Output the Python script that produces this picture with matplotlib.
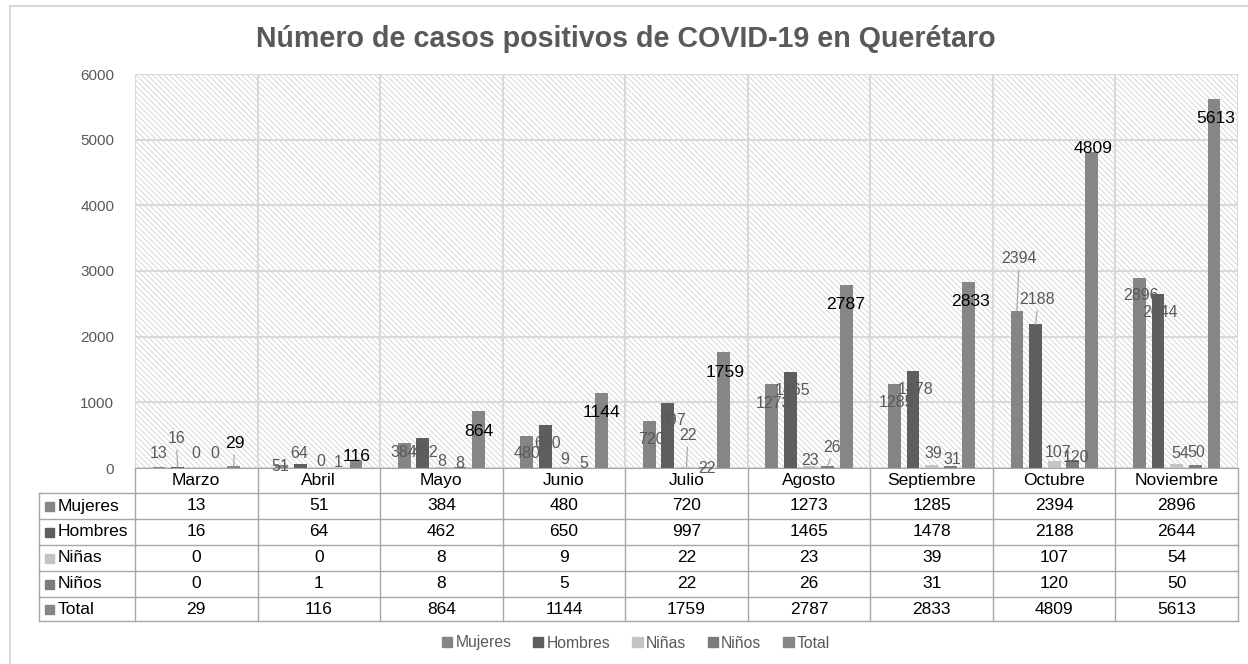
import numpy as np
import matplotlib
matplotlib.use('Agg')
import matplotlib.pyplot as plt
from matplotlib.patches import Rectangle, Patch
from matplotlib.lines import Line2D
from matplotlib.transforms import blended_transform_factory

plt.rcParams['font.family'] = ['Liberation Sans', 'DejaVu Sans']
plt.rcParams['hatch.linewidth'] = 0.55

MONTHS = ["Marzo", "Abril", "Mayo", "Junio", "Julio", "Agosto",
          "Septiembre", "Octubre", "Noviembre"]
SERIES = ["Mujeres", "Hombres", "Niñas", "Niños", "Total"]
MUJERES = [13, 51, 384, 480, 720, 1273, 1285, 2394, 2896]
HOMBRES = [16, 64, 462, 650, 997, 1465, 1478, 2188, 2644]
NINAS = [0, 0, 8, 9, 22, 23, 39, 107, 54]
NINOS = [0, 1, 8, 5, 22, 26, 31, 120, 50]
TOTAL = [29, 116, 864, 1144, 1759, 2787, 2833, 4809, 5613]
VALUES = [MUJERES, HOMBRES, NINAS, NINOS, TOTAL]

COLORS = ["#858585", "#5e5e5e", "#c4c4c4", "#7c7c7c", "#868686"]
LABEL_COLORS = ["#595959", "#595959", "#595959", "#595959", "black"]
LABEL_SIZES = [11.5, 11.5, 11.5, 11.5, 12.6]

# data label placement: (dx, dy, leader line) in pixels from the top of each bar
LABEL_OFFSETS = [
    [(0, 14, 0), (-1, -2, 0), (0, -10, 0), (0, -17, 0), (2, -19, 0),
     (2, -19, 0), (2, -19, 0), (2, 52, 1), (2, -18, 0)],
    [(-1, 28, 1), (-1, 10, 0), (2, -15, 0), (2, -18, 0), (5, -18, 0),
     (2, -19, 0), (3, -19, 0), (2, 25, 1), (2, -18, 0)],
    [(0, 15, 0), (2, 7, 0), (0, 6, 0), (1, 8, 0), (1, 31, 1),
     (1, 6, 0), (2, 12, 0), (4, 8, 0), (4, 11, 0)],
    [(0, 15, 0), (1, 5, 0), (0, 4, 0), (1, 4, 0), (2, -2, 0),
     (4, 19, 1), (2, 6, 0), (3, 3, 0), (1, 12, 0)],
    [(1, 23, 1), (1, 4, 0), (0, -20, 0), (0, -20, 0), (1, -20, 0),
     (-1, -20, 0), (2, -20, 0), (2, 4, 0), (2, -19, 0)],
]

W, H = 1248, 664


def fx(px):
    return px / W


def fy(py):
    return 1 - py / H


fig = plt.figure(figsize=(W / 100, H / 100), dpi=100)
ax = fig.add_axes([fx(135), fy(468), fx(1238) - fx(135), fy(74) - fy(468)])

# hatched plot area
ax.add_patch(Rectangle((0, 0), 1, 1, transform=ax.transAxes, facecolor="white",
                       edgecolor="#cccccc", hatch="\\" * 6, lw=0, zorder=0.1))

x = np.arange(len(MONTHS))
step = 0.152
width = 0.104
for k, vals in enumerate(VALUES):
    pos = x + (k - 2) * step
    ax.bar(pos, vals, width=width, color=COLORS[k], zorder=2)
    for i, v in enumerate(vals):
        dx, dy, leader = LABEL_OFFSETS[k][i]
        arrow = None
        if leader:
            arrow = dict(arrowstyle="-", color="#a6a6a6", lw=0.9,
                         shrinkA=1, shrinkB=0, relpos=(0.5, 0))
        t = ax.annotate(str(v), xy=(pos[i], v), xytext=(dx, dy),
                        textcoords="offset pixels", ha="center", va="center",
                        fontsize=LABEL_SIZES[k], color=LABEL_COLORS[k],
                        annotation_clip=False, arrowprops=arrow, zorder=3)
        t.set_clip_on(True)

ax.set_xlim(-0.5, len(MONTHS) - 0.5)
ax.set_ylim(0, 6000)
ax.set_yticks(range(0, 6001, 1000))
ax.set_xticks([])
ax.tick_params(axis="y", length=0, pad=15, labelsize=11, labelcolor="#595959")
ax.yaxis.grid(True, color="#d9d9d9", lw=1.5, zorder=0.5)
for b in np.arange(-0.5, len(MONTHS), 1.0):
    ax.axvline(b, color="#d9d9d9", lw=1.5, zorder=0.5)
ax.set_axisbelow(True)
for side in ["top", "left", "right"]:
    ax.spines[side].set_visible(False)
ax.spines["bottom"].set_color("#a6a6a6")

fig.text(fx(626), fy(47), "Número de casos positivos de COVID-19 en Querétaro",
         ha="center", va="baseline", fontsize=20.6, fontweight="bold", color="#595959")

# data table under the chart
trans = blended_transform_factory(ax.transData, fig.transFigure)
line_kw = dict(color="#a6a6a6", lw=1)
row_edges = [493, 519, 545, 571, 597, 621]
for b in np.arange(-0.5, len(MONTHS), 1.0):
    ax.add_artist(Line2D([b, b], [fy(468), fy(621)], transform=trans,
                         clip_on=False, **line_kw))
for r in row_edges:
    fig.add_artist(Line2D([fx(39), fx(1238)], [fy(r), fy(r)],
                          transform=fig.transFigure, **line_kw))
fig.add_artist(Line2D([fx(39), fx(39)], [fy(493), fy(621)],
                      transform=fig.transFigure, **line_kw))

for i, m in enumerate(MONTHS):
    ax.text(i, fy(480.5), m, transform=trans, ha="center", va="center",
            fontsize=12.5, color="black")
for k, vals in enumerate(VALUES):
    yc = (row_edges[k] + row_edges[k + 1]) / 2
    fig.add_artist(Rectangle((fx(45), fy(yc) - 4.5 / H), 9 / W, 9 / H,
                             transform=fig.transFigure, color=COLORS[k]))
    fig.text(fx(58), fy(yc), SERIES[k], ha="left", va="center",
             fontsize=12.5, color="black")
    for i, v in enumerate(vals):
        ax.text(i, fy(yc), str(v), transform=trans, ha="center", va="center",
                fontsize=12.5, color="black")

handles = [Patch(color=c, label=s) for c, s in zip(COLORS, SERIES)]
fig.legend(handles=handles, loc="center", bbox_to_anchor=(fx(636), fy(643)),
           ncol=5, frameon=False, fontsize=11.3, handlelength=0.65,
           handleheight=0.65, handletextpad=0.2, columnspacing=1.4,
           labelcolor="#595959")

# chart frame
fig.add_artist(Line2D([fx(10), fx(1260)], [fy(6), fy(6)],
                      transform=fig.transFigure, color="#d9d9d9", lw=1.5))
fig.add_artist(Line2D([fx(10), fx(10)], [fy(6), fy(680)],
                      transform=fig.transFigure, color="#d9d9d9", lw=1.5))

fig.savefig("out.png", dpi=100)
